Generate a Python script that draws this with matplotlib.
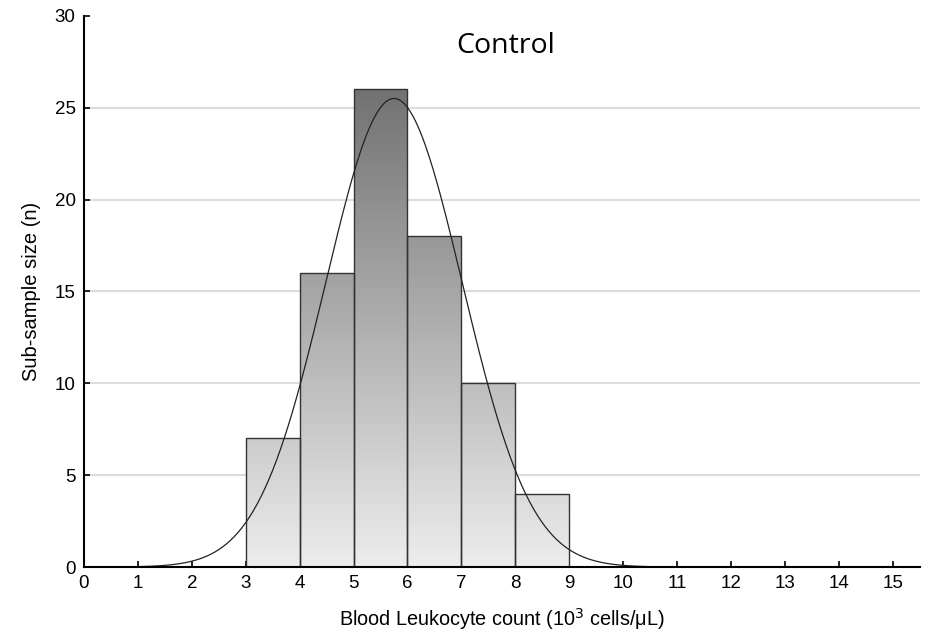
import numpy as np
import matplotlib
matplotlib.use("Agg")
import matplotlib.pyplot as plt

# histogram bins (10^3 cells/uL) and counts
bin_left = [3, 4, 5, 6, 7, 8]
counts = [7, 16, 26, 18, 10, 4]
bin_width = 1.0

# fitted normal curve parameters
fit_mean = 5.75
fit_sd = 1.267
fit_range = (1.0, 10.5)

x_ticks = list(range(0, 16))
y_ticks = [0, 5, 10, 15, 20, 25, 30]

plt.rcParams['font.family'] = ['Liberation Sans', 'DejaVu Sans']

fig = plt.figure(figsize=(9.28, 6.35), dpi=100)
ax = fig.add_axes([0.0905, 0.107, 0.9005, 0.868])

ax.set_xlim(0, 15.5)
ax.set_ylim(0, 30)

# horizontal grid
for yv in y_ticks[1:-1]:
    ax.axhline(yv, color='#dcdcdc', lw=1.5, zorder=0)

# gradient fill clipped to bars
top = max(counts)
grad = np.linspace(0, 1, 256).reshape(-1, 1)
cmap = matplotlib.colors.LinearSegmentedColormap.from_list('g', ['#ededed', '#727272'])
for xl, c in zip(bin_left, counts):
    rect = plt.Rectangle((xl, 0), bin_width, c, facecolor='none',
                         edgecolor='#333333', lw=1.0, zorder=3)
    ax.add_patch(rect)
    im = ax.imshow(grad, extent=(xl, xl + bin_width, 0, top), origin='lower',
                   cmap=cmap, aspect='auto', zorder=2)
    im.set_clip_path(rect)

ax.set_xlim(0, 15.5)
ax.set_ylim(0, 30)

# normal fit
xs = np.linspace(fit_range[0], fit_range[1], 400)
n_total = sum(counts)
ys = n_total * bin_width / (fit_sd * np.sqrt(2 * np.pi)) * np.exp(-0.5 * ((xs - fit_mean) / fit_sd) ** 2)
ax.plot(xs, ys, color='#222222', lw=0.9, zorder=4)

ax.set_xticks(x_ticks)
ax.set_yticks(y_ticks)
ax.tick_params(direction='in', length=4, width=1.2, labelsize=13.5, colors='black', pad=6)

for s in ['top', 'right']:
    ax.spines[s].set_visible(False)
for s in ['left', 'bottom']:
    ax.spines[s].set_linewidth(1.5)
    ax.spines[s].set_zorder(5)

ax.set_xlabel('Blood Leukocyte count (10$^3$ cells/\u03bcL)', fontsize=14.3, labelpad=10)
ax.set_ylabel('Sub-sample size (n)', fontsize=14.5, labelpad=10)

ax.text(7.83, 28.35, 'Control', fontsize=20.5, ha='center', va='center',
        family=['Open Sans', 'DejaVu Sans'])

fig.savefig('out.png', dpi=100)
